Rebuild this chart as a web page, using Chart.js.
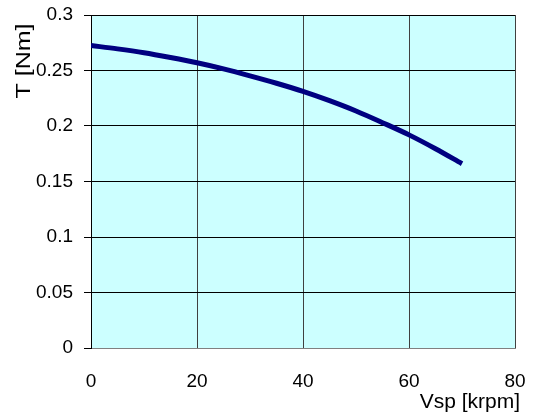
<!DOCTYPE html>
<html>
<head>
<meta charset="utf-8">
<script src="https://cdn.jsdelivr.net/npm/chart.js@4"></script>
<style>
  html, body { margin: 0; padding: 0; background: #fff; }
  #wrap { width: 533px; height: 419px; }
</style>
</head>
<body>
<div id="wrap"><canvas id="torqueChart"></canvas></div>
<script>
// speed in krpm
const speeds = [0, 5, 10, 15, 20, 25, 30, 35, 40, 45, 50, 55, 60, 65, 70];
// torque in Nm
const torques = [0.2725, 0.2695, 0.266, 0.2617, 0.257, 0.2515, 0.2452, 0.2385, 0.2312, 0.2228, 0.2135, 0.203, 0.192, 0.1795, 0.166];
const xTicks = [0, 20, 40, 60, 80];
const yTicks = [0, 0.05, 0.1, 0.15, 0.2, 0.25, 0.3];
const xTitle = 'Vsp [krpm]';
const yTitle = 'T [Nm]';

const fontFamily = '"Liberation Sans", Arial, sans-serif';

// nền xanh nhạt cho vùng vẽ + tiêu đề trục
const plotBg = {
    id: 'plotBg',
    beforeDraw(chart) {
        const { ctx, chartArea: a } = chart;
        ctx.save();
        ctx.fillStyle = '#CCFFFF';
        ctx.fillRect(a.left, a.top, a.right - a.left, a.bottom - a.top);
        ctx.restore();
    },
    afterDraw(chart) {
        const ctx = chart.ctx;
        ctx.save();
        ctx.fillStyle = '#000';
        ctx.font = '20px ' + fontFamily;
        ctx.textBaseline = 'middle';
        // trục x: căn phải
        ctx.save();
        ctx.translate(520, 402);
        ctx.scale(1.05, 1);
        ctx.textAlign = 'right';
        ctx.fillText(xTitle, 0, 0);
        ctx.restore();
        // trục y: xoay dọc
        ctx.translate(24, 61);
        ctx.rotate(-Math.PI / 2);
        ctx.scale(1.25, 1);
        ctx.textAlign = 'center';
        ctx.fillText(yTitle, 0, 0);
        ctx.restore();
    }
};

new Chart(document.getElementById('torqueChart'), {
    type: 'scatter',
    data: {
        datasets: [{
            data: speeds.map((s, i) => ({ x: s, y: torques[i] })),
            showLine: true,
            borderColor: '#000080',
            borderWidth: 5,
            pointRadius: 0,
            cubicInterpolationMode: 'monotone',
            fill: false
        }]
    },
    options: {
        responsive: true,
        maintainAspectRatio: false,
        animation: false,
        layout: { padding: { top: 15, right: 18, left: 0, bottom: 0 } },
        plugins: { legend: { display: false }, tooltip: { enabled: false } },
        scales: {
            x: {
                type: 'linear',
                min: 0, max: 80,
                afterBuildTicks: s => { s.ticks = xTicks.map(v => ({ value: v })); },
                afterFit: s => { s.height = 71; s.paddingLeft = 0; s.paddingRight = 0; },
                grid: { color: '#404040', lineWidth: 1, tickLength: 7, drawTicks: false },
                border: { color: '#808080', width: 1 },
                ticks: { color: '#000', font: { size: 19, family: fontFamily }, padding: 22, maxRotation: 0 }
            },
            y: {
                min: 0, max: 0.3,
                afterBuildTicks: s => { s.ticks = yTicks.map(v => ({ value: v })); },
                afterFit: s => { s.width = 91; s.paddingTop = 0; s.paddingBottom = 0; },
                grid: { color: '#000', lineWidth: 1, tickLength: 7 },
                border: { color: '#000', width: 1 },
                ticks: { color: '#000', font: { size: 19, family: fontFamily }, padding: 11,
                    callback: v => String(Math.round(v * 100) / 100) }
            }
        }
    },
    plugins: [plotBg]
});
</script>
</body>
</html>
